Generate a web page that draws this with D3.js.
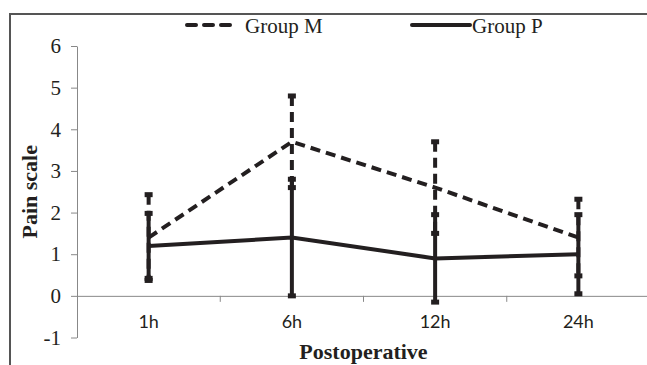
<!DOCTYPE html>
<html>
<head>
<meta charset="utf-8">
<script src="https://cdn.jsdelivr.net/npm/d3@7"></script>
<style>
  body { margin: 0; background: #fff; }
  svg { display: block; }
</style>
</head>
<body>
<svg id="chart" width="647" height="365"></svg>
<script>
// Data
const times = ['1h', '6h', '12h', '24h'];
const groupM = [1.4, 3.7, 2.6, 1.4];
const groupMErr = [1.03, 1.1, 1.1, 0.92];
const groupP = [1.2, 1.4, 0.9, 1.0];
const groupPErr = [0.78, 1.4, 1.05, 0.95];
const yTicks = [-1, 0, 1, 2, 3, 4, 5, 6];

const ink = '#231f20';
const svg = d3.select('#chart');

// outer frame (cropped on the right and bottom)
svg.append('rect')
  .attr('x', 10).attr('y', 14)
  .attr('width', 700).attr('height', 400)
  .attr('fill', 'none')
  .attr('stroke', '#555')
  .attr('stroke-width', 2);

const x = d3.scaleBand().domain(times).range([77, 650]);
const y = d3.scaleLinear().domain([-1, 6]).range([337.5, 46]);
const cx = d => x(d) + x.bandwidth() / 2;

// y axis
const yAxis = svg.append('g')
  .attr('transform', 'translate(77,0)')
  .call(d3.axisLeft(y).tickValues(yTicks).tickFormat(d => String(d))
    .tickSize(6).tickSizeOuter(0).tickPadding(10));
yAxis.select('.domain').attr('stroke', '#888');
yAxis.selectAll('.tick line').attr('stroke', '#888');
yAxis.selectAll('.tick text')
  .attr('font-family', '"Liberation Serif", "Times New Roman", serif')
  .attr('font-size', 21)
  .attr('fill', ink);

// x axis at value 0
const xAxis = svg.append('g')
  .attr('transform', `translate(0,${y(0)})`)
  .call(d3.axisBottom(x).tickSize(0).tickPadding(19));
xAxis.select('.domain').attr('stroke', '#888');
xAxis.selectAll('.tick text')
  .attr('font-family', 'Lato, "Open Sans", sans-serif')
  .attr('font-size', 18)
  .attr('fill', ink);
// tick marks between categories
svg.append('g').selectAll('line')
  .data(times.slice(1))
  .join('line')
  .attr('x1', d => x(d)).attr('x2', d => x(d))
  .attr('y1', y(0)).attr('y2', y(0) + 6)
  .attr('stroke', '#888');

// axis titles
svg.append('text')
  .attr('transform', `translate(37,${(y(-1) + y(6)) / 2}) rotate(-90)`)
  .attr('text-anchor', 'middle')
  .attr('font-family', '"Liberation Serif", "Times New Roman", serif')
  .attr('font-weight', 'bold')
  .attr('font-size', 22)
  .attr('fill', ink)
  .text('Pain scale');

svg.append('text')
  .attr('x', 363.5).attr('y', 359)
  .attr('text-anchor', 'middle')
  .attr('font-family', '"Liberation Serif", "Times New Roman", serif')
  .attr('font-weight', 'bold')
  .attr('font-size', 22)
  .attr('fill', ink)
  .text('Postoperative');

// error bars and lines
const series = [
  { name: 'Group M', values: groupM, err: groupMErr, dash: '10,6' },
  { name: 'Group P', values: groupP, err: groupPErr, dash: null }
];

series.forEach(s => {
  const g = svg.append('g');
  const pts = times.map((t, i) => ({ t, v: s.values[i], e: s.err[i] }));

  g.selectAll('line.bar')
    .data(pts)
    .join('line')
    .attr('class', 'bar')
    .attr('x1', d => cx(d.t)).attr('x2', d => cx(d.t))
    .attr('y1', d => y(d.v + d.e)).attr('y2', d => y(d.v - d.e))
    .attr('stroke', ink)
    .attr('stroke-width', 4)
    .attr('stroke-dasharray', s.dash);

  const caps = pts.flatMap(d => [d.v + d.e, d.v - d.e].map(c => ({ t: d.t, c })));
  g.selectAll('rect.cap')
    .data(caps)
    .join('rect')
    .attr('class', 'cap')
    .attr('x', d => cx(d.t) - 4)
    .attr('y', d => y(d.c) - 2.5)
    .attr('width', 8).attr('height', 5)
    .attr('fill', ink);

  g.append('path')
    .datum(pts)
    .attr('d', d3.line().x(d => cx(d.t)).y(d => y(d.v)))
    .attr('fill', 'none')
    .attr('stroke', ink)
    .attr('stroke-width', 4)
    .attr('stroke-dasharray', s.dash);
});

// legend
const legend = [
  { name: 'Group M', x1: 187, x2: 234, tx: 245, dash: '10,6' },
  { name: 'Group P', x1: 412, x2: 470, tx: 472, dash: null }
];
legend.forEach(l => {
  svg.append('line')
    .attr('x1', l.x1).attr('x2', l.x2)
    .attr('y1', 25).attr('y2', 25)
    .attr('stroke', ink)
    .attr('stroke-width', 4)
    .attr('stroke-linecap', 'round')
    .attr('stroke-dasharray', l.dash ? '9,8' : null);
  svg.append('text')
    .attr('x', l.tx).attr('y', 33)
    .attr('font-family', '"Liberation Serif", "Times New Roman", serif')
    .attr('font-size', 21)
    .attr('fill', ink)
    .text(l.name);
});
</script>
</body>
</html>
